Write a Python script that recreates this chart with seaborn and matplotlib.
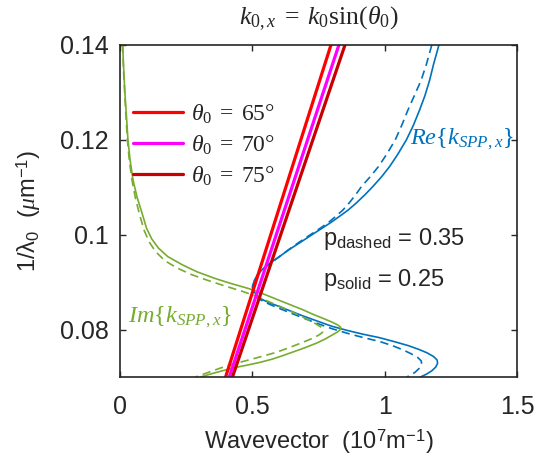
import numpy as np
import pandas as pd
import matplotlib
matplotlib.use('Agg')
import matplotlib.pyplot as plt
import seaborn as sns

# k0*sin(theta0) light lines, end points read at y = 0.07 and y = 0.14
light_y = [0.07, 0.14]
light_x65 = [0.399, 0.797]
light_x70 = [0.413, 0.827]
light_x75 = [0.425, 0.850]

# Re{k_SPP,x}, p = 0.25 (solid), traced from the top edge down to the bottom edge
re_solid_x = [1.205, 1.185, 1.170, 1.152, 1.132, 1.108, 1.082, 1.050, 1.019, 0.988, 0.956,
              0.925, 0.893, 0.862, 0.830, 0.800, 0.767, 0.720, 0.679, 0.640, 0.600, 0.566,
              0.540, 0.520, 0.507, 0.502, 0.505, 0.515, 0.535, 0.566, 0.600, 0.640, 0.690,
              0.740, 0.800, 0.860, 0.920, 0.980, 1.040, 1.090, 1.130, 1.160, 1.185, 1.198,
              1.200, 1.193, 1.178, 1.158, 1.135]
re_solid_y = [0.1400, 0.1360, 0.1326, 0.1293, 0.1263, 0.1230, 0.1200, 0.1170, 0.1144, 0.1122,
              0.1102, 0.1084, 0.1067, 0.1052, 0.1039, 0.1027, 0.1015, 0.0998, 0.0983, 0.0969,
              0.0953, 0.0940, 0.0928, 0.0916, 0.0903, 0.0892, 0.0882, 0.0873, 0.0864, 0.0856,
              0.0849, 0.0840, 0.0829, 0.0819, 0.0807, 0.0798, 0.0790, 0.0783, 0.0774, 0.0766,
              0.0758, 0.0751, 0.0743, 0.0736, 0.0729, 0.0721, 0.0713, 0.0706, 0.0700]
# Re{k_SPP,x}, p = 0.35 (dashed)
re_dash_x = [1.178, 1.158, 1.138, 1.112, 1.088, 1.064, 1.040, 1.008, 0.977, 0.945, 0.913,
             0.890, 0.866, 0.842, 0.816, 0.790, 0.760, 0.714, 0.674, 0.636, 0.598, 0.564,
             0.538, 0.518, 0.505, 0.500, 0.503, 0.513, 0.533, 0.566, 0.600, 0.640, 0.690,
             0.740, 0.800, 0.860, 0.920, 0.980, 1.030, 1.070, 1.100, 1.125, 1.138, 1.140,
             1.132, 1.115, 1.095, 1.083]
re_dash_y = [0.1400, 0.1360, 0.1326, 0.1293, 0.1263, 0.1230, 0.1200, 0.1170, 0.1144, 0.1122,
             0.1102, 0.1084, 0.1067, 0.1052, 0.1039, 0.1027, 0.1015, 0.0998, 0.0983, 0.0968,
             0.0952, 0.0938, 0.0926, 0.0913, 0.0900, 0.0890, 0.0880, 0.0871, 0.0862, 0.0853,
             0.0845, 0.0836, 0.0825, 0.0814, 0.0802, 0.0792, 0.0783, 0.0775, 0.0766, 0.0757,
             0.0749, 0.0741, 0.0734, 0.0727, 0.0719, 0.0710, 0.0703, 0.0700]

# Im{k_SPP,x}, p = 0.25 (solid)
im_solid_x = [0.010, 0.014, 0.019, 0.025, 0.030, 0.038, 0.049, 0.064, 0.083, 0.100, 0.120,
              0.145, 0.180, 0.234, 0.290, 0.358, 0.420, 0.483, 0.520, 0.560, 0.600, 0.645,
              0.690, 0.730, 0.770, 0.800, 0.822, 0.834, 0.833, 0.822, 0.800, 0.775, 0.745,
              0.700, 0.660, 0.620, 0.577, 0.530, 0.480, 0.426, 0.380, 0.340, 0.305]
im_solid_y = [0.1400, 0.1350, 0.1295, 0.1245, 0.1200, 0.1158, 0.1116, 0.1080, 0.1046, 0.1014,
              0.0991, 0.0972, 0.0954, 0.0937, 0.0922, 0.0908, 0.0897, 0.0887, 0.0880, 0.0871,
              0.0862, 0.0852, 0.0842, 0.0832, 0.0823, 0.0816, 0.0810, 0.0805, 0.0800, 0.0795,
              0.0788, 0.0780, 0.0772, 0.0762, 0.0754, 0.0746, 0.0738, 0.0731, 0.0725, 0.0719,
              0.0712, 0.0706, 0.0700]
# Im{k_SPP,x}, p = 0.35 (dashed)
im_dash_x = [0.010, 0.013, 0.018, 0.023, 0.028, 0.035, 0.045, 0.058, 0.075, 0.092, 0.110,
             0.135, 0.170, 0.215, 0.270, 0.330, 0.396, 0.460, 0.517, 0.570, 0.620, 0.670,
             0.710, 0.740, 0.760, 0.768, 0.765, 0.750, 0.725, 0.690, 0.640, 0.590, 0.540,
             0.480, 0.426, 0.380, 0.340, 0.310, 0.285]
im_dash_y = [0.1400, 0.1350, 0.1295, 0.1245, 0.1200, 0.1158, 0.1116, 0.1078, 0.1040, 0.1008,
             0.0985, 0.0964, 0.0945, 0.0930, 0.0916, 0.0904, 0.0892, 0.0881, 0.0870, 0.0857,
             0.0845, 0.0832, 0.0821, 0.0812, 0.0805, 0.0799, 0.0794, 0.0788, 0.0781, 0.0773,
             0.0762, 0.0752, 0.0744, 0.0735, 0.0727, 0.0719, 0.0711, 0.0705, 0.0700]

x_ticks = [0, 0.5, 1, 1.5]
x_ticklabels = ['0', '0.5', '1', '1.5']
y_ticks = [0.08, 0.1, 0.12, 0.14]
y_ticklabels = ['0.08', '0.1', '0.12', '0.14']

blue = '#0072BD'
green = '#77AC30'
dash = (0, (5, 3))

sns.set_style('ticks', {'xtick.direction': 'in', 'ytick.direction': 'in'})
plt.rcParams['font.family'] = ['Liberation Sans', 'DejaVu Sans']
plt.rcParams['mathtext.fontset'] = 'custom'
plt.rcParams['mathtext.rm'] = 'Liberation Serif'
plt.rcParams['mathtext.it'] = 'Liberation Serif:italic'
plt.rcParams['mathtext.bf'] = 'Liberation Serif:bold'
plt.rcParams['mathtext.sf'] = 'Liberation Sans'

fig = plt.figure(figsize=(5.37, 4.61), dpi=100)
ax = fig.add_axes([120 / 537, 1 - 377 / 461, 397 / 537, 332 / 461])

light = pd.DataFrame({'x': light_x65 + light_x70 + light_x75,
                      'y': light_y * 3,
                      'angle': ['$\\theta_0\\;=\\;65°$'] * 2 + ['$\\theta_0\\;=\\;70°$'] * 2
                               + ['$\\theta_0\\;=\\;75°$'] * 2})

sns.lineplot(x=re_solid_x, y=re_solid_y, sort=False, estimator=None, color=blue, lw=1.2, ax=ax)
sns.lineplot(x=re_dash_x, y=re_dash_y, sort=False, estimator=None, color=blue, lw=1.2,
             ls=dash, ax=ax)
sns.lineplot(x=im_solid_x, y=im_solid_y, sort=False, estimator=None, color=green, lw=1.2, ax=ax)
sns.lineplot(x=im_dash_x, y=im_dash_y, sort=False, estimator=None, color=green, lw=1.2,
             ls=dash, ax=ax)
sns.lineplot(data=light, x='x', y='y', hue='angle', sort=False, estimator=None,
             palette=['#ff0000', '#ff00ff', '#c80000'], lw=2.3, ax=ax)

ax.set_xlim(0, 1.5)
ax.set_ylim(0.07, 0.14)
ax.set_xticks(x_ticks)
ax.set_xticklabels(x_ticklabels)
ax.set_yticks(y_ticks)
ax.set_yticklabels(y_ticklabels)
ax.tick_params(labelsize=18, length=4, width=1, top=True, right=True, colors='#262626')
ax.tick_params(axis='x', pad=13)
ax.tick_params(axis='y', pad=8)
for s in ax.spines.values():
    s.set_linewidth(1.2)
    s.set_color('#262626')

ax.set_xlabel('Wavevector  (10$^\\mathsf{7}$m$^\\mathsf{-1}$)', fontsize=17, labelpad=6)
ax.set_ylabel('1/λ$_\\mathsf{0}$  ($\\mu$m$^\\mathsf{-1}$)', fontsize=17, labelpad=12)
ax.set_title('$k_{0,x}\\;=\\;k_0\\mathrm{sin}(\\theta_0)$', fontsize=18.5, pad=15)

ax.text(1.094, 0.12, '$Re\\{k_{SPP,x}\\}$', color=blue, fontsize=17.5, va='center')
ax.text(0.03, 0.0825, '$Im\\{k_{SPP,x}\\}$', color=green, fontsize=17.5, va='center')
ax.text(0.766, 0.0979, 'p$_\\mathsf{dashed}$ = 0.35', fontsize=17, va='baseline')
ax.text(0.766, 0.0891, 'p$_\\mathsf{solid}$ = 0.25', fontsize=17, va='baseline')

ax.legend(loc='upper left', bbox_to_anchor=(0.01, 0.855), frameon=False, fontsize=17,
          handlelength=2.1, handletextpad=0.35, labelspacing=0.32, borderaxespad=0)

fig.savefig('out.png', dpi=100)
